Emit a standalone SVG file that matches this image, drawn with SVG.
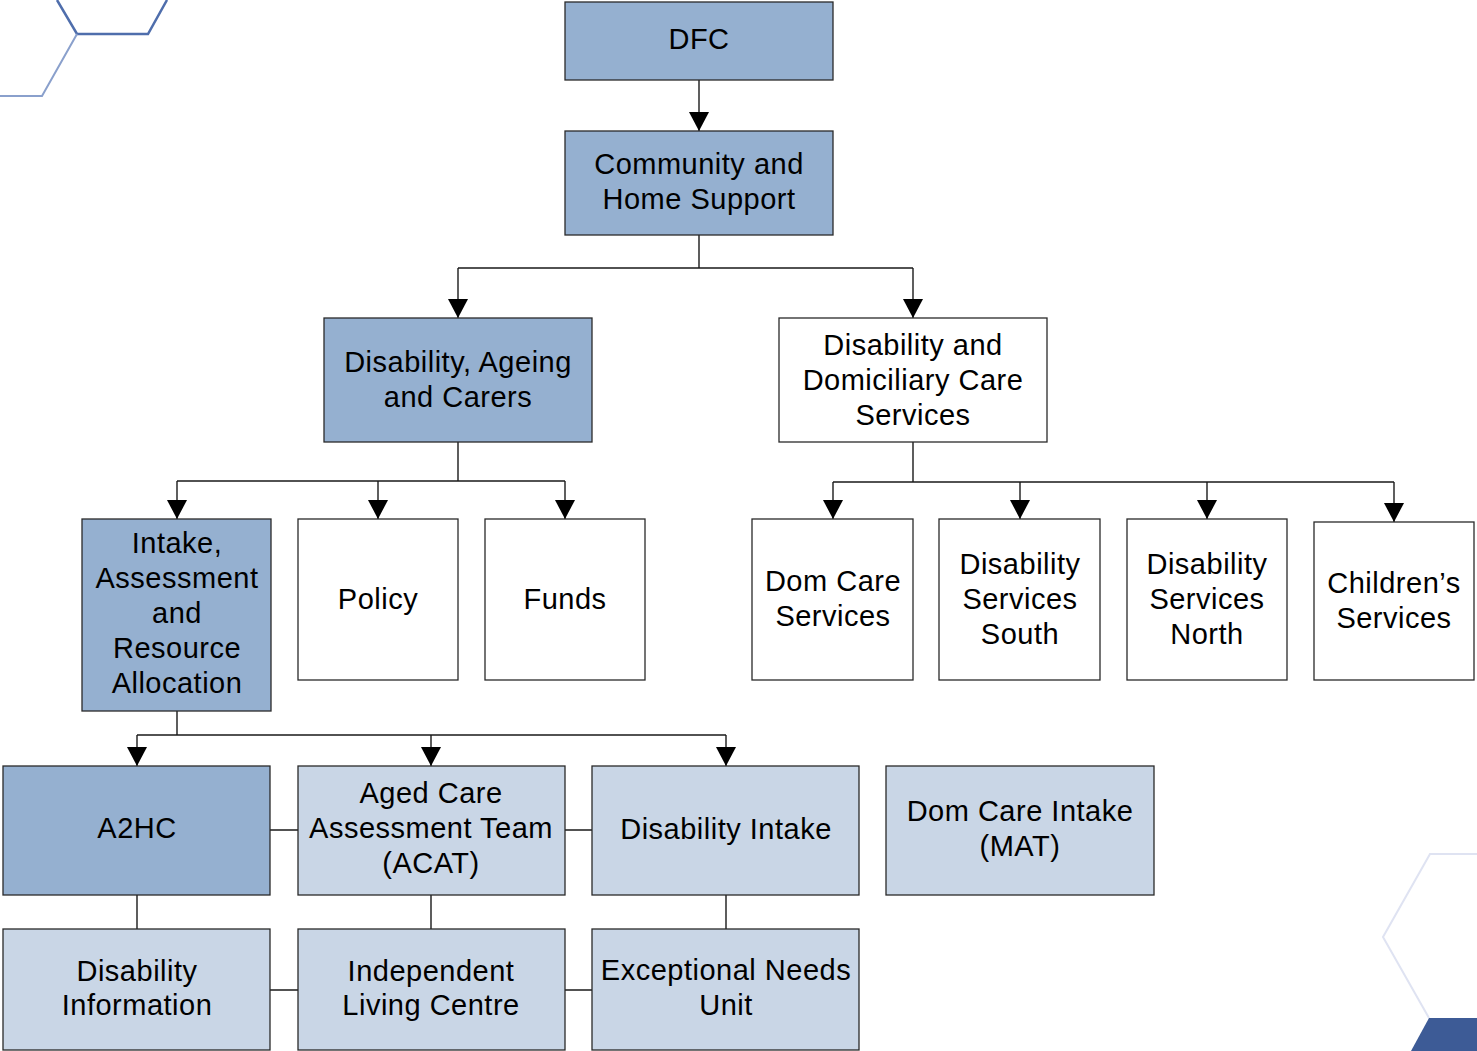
<svg xmlns="http://www.w3.org/2000/svg" width="1477" height="1051" viewBox="0 0 1477 1051">
<style>
.dk{fill:#95b0d0;stroke:#2a2a2a;stroke-width:1.3}
.lt{fill:#c9d6e6;stroke:#2a2a2a;stroke-width:1.3}
.wh{fill:#ffffff;stroke:#2a2a2a;stroke-width:1.3}
text{font-family:"Liberation Sans",Arial,sans-serif;font-size:29px;letter-spacing:0.5px;fill:#000;text-anchor:middle}
.c{fill:none;stroke:#1a1a1a;stroke-width:1.4}
</style>
<defs>
<marker id="ah" markerWidth="19" markerHeight="20" refX="19" refY="10" orient="auto" markerUnits="userSpaceOnUse" viewBox="0 0 19 20">
<path d="M0,0 L19,10 L0,20 Z" fill="#000"/>
</marker>
</defs>
<rect width="1477" height="1051" fill="#fff"/>
<g id="decor">
<path d="M57,0 L77,34 L148,34 L167,0" fill="none" stroke="#4f6eac" stroke-width="2.5"/>
<path d="M77,34 L42,96 L0,96" fill="none" stroke="#8aa0cc" stroke-width="2"/>
<path d="M1477,854 L1430,854 L1383,937 L1429,1018" fill="none" stroke="#dfe3f2" stroke-width="2"/>
<path d="M1429,1018 L1477,1018 L1477,1051 L1411,1051 Z" fill="#3d5b96"/>
</g>
<g id="connectors">
<path class="c" d="M699,80 V131" marker-end="url(#ah)"/>
<path class="c" d="M699,235 V268 M458,268 H913"/>
<path class="c" d="M458,268 V318" marker-end="url(#ah)"/>
<path class="c" d="M913,268 V318" marker-end="url(#ah)"/>
<path class="c" d="M458,442 V481 M177,481 H565"/>
<path class="c" d="M177,481 V519" marker-end="url(#ah)"/>
<path class="c" d="M378,481 V519" marker-end="url(#ah)"/>
<path class="c" d="M565,481 V519" marker-end="url(#ah)"/>
<path class="c" d="M913,442 V482 M833,482 H1394"/>
<path class="c" d="M833,482 V519" marker-end="url(#ah)"/>
<path class="c" d="M1020,482 V519" marker-end="url(#ah)"/>
<path class="c" d="M1207,482 V519" marker-end="url(#ah)"/>
<path class="c" d="M1394,482 V522" marker-end="url(#ah)"/>
<path class="c" d="M177,711 V735 M137,735 H726"/>
<path class="c" d="M137,735 V766" marker-end="url(#ah)"/>
<path class="c" d="M431,735 V766" marker-end="url(#ah)"/>
<path class="c" d="M726,735 V766" marker-end="url(#ah)"/>
<path class="c" d="M270,830 H298 M565,830 H592"/>
<path class="c" d="M137,895 V929 M431,895 V929 M726,895 V929"/>
<path class="c" d="M270,990 H298 M565,990 H592"/>
</g>
<g id="n-dfc"><rect class="dk" x="565" y="2" width="268" height="78"/><text x="699" y="49">DFC</text></g>
<g id="n-chs"><rect class="dk" x="565" y="131" width="268" height="104"/><text x="699" y="174">Community and</text><text x="699" y="209">Home Support</text></g>
<g id="n-dac"><rect class="dk" x="324" y="318" width="268" height="124"/><text x="458" y="372">Disability, Ageing</text><text x="458" y="407">and Carers</text></g>
<g id="n-ddcs"><rect class="wh" x="779" y="318" width="268" height="124"/><text x="913" y="355">Disability and</text><text x="913" y="390">Domiciliary Care</text><text x="913" y="425">Services</text></g>
<g id="n-iara"><rect class="dk" x="82" y="519" width="189" height="192"/><text x="177" y="553">Intake,</text><text x="177" y="588">Assessment</text><text x="177" y="623">and</text><text x="177" y="658">Resource</text><text x="177" y="693">Allocation</text></g>
<g id="n-policy"><rect class="wh" x="298" y="519" width="160" height="161"/><text x="378" y="609">Policy</text></g>
<g id="n-funds"><rect class="wh" x="485" y="519" width="160" height="161"/><text x="565" y="609">Funds</text></g>
<g id="n-dcs"><rect class="wh" x="752" y="519" width="161" height="161"/><text x="833" y="591">Dom Care</text><text x="833" y="626">Services</text></g>
<g id="n-dss"><rect class="wh" x="939" y="519" width="161" height="161"/><text x="1020" y="574">Disability</text><text x="1020" y="609">Services</text><text x="1020" y="644">South</text></g>
<g id="n-dsn"><rect class="wh" x="1127" y="519" width="160" height="161"/><text x="1207" y="574">Disability</text><text x="1207" y="609">Services</text><text x="1207" y="644">North</text></g>
<g id="n-cs"><rect class="wh" x="1314" y="522" width="160" height="158"/><text x="1394" y="593">Children’s</text><text x="1394" y="628">Services</text></g>
<g id="n-a2hc"><rect class="dk" x="3" y="766" width="267" height="129"/><text x="137" y="838">A2HC</text></g>
<g id="n-acat"><rect class="lt" x="298" y="766" width="267" height="129"/><text x="431" y="803">Aged Care</text><text x="431" y="838">Assessment Team</text><text x="431" y="873">(ACAT)</text></g>
<g id="n-di"><rect class="lt" x="592" y="766" width="267" height="129"/><text x="726" y="839">Disability Intake</text></g>
<g id="n-dci"><rect class="lt" x="886" y="766" width="268" height="129"/><text x="1020" y="821">Dom Care Intake</text><text x="1020" y="856">(MAT)</text></g>
<g id="n-dinfo"><rect class="lt" x="3" y="929" width="267" height="121"/><text x="137" y="981">Disability</text><text x="137" y="1015">Information</text></g>
<g id="n-ilc"><rect class="lt" x="298" y="929" width="267" height="121"/><text x="431" y="981">Independent</text><text x="431" y="1015">Living Centre</text></g>
<g id="n-enu"><rect class="lt" x="592" y="929" width="267" height="121"/><text x="726" y="980">Exceptional Needs</text><text x="726" y="1015">Unit</text></g>
</svg>
